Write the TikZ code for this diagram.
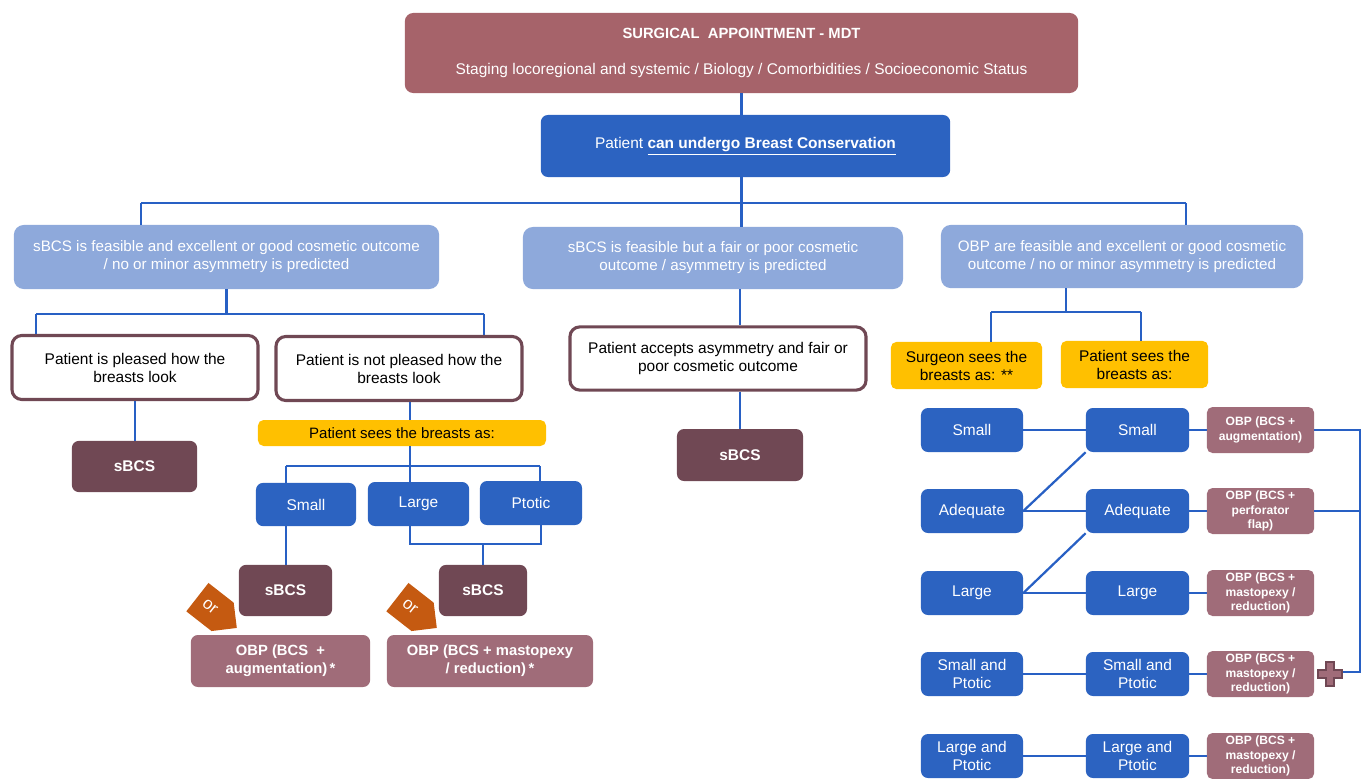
\documentclass[tikz,border=0pt]{standalone}
\usepackage{fontspec}
\setmainfont{Liberation Sans}
\usetikzlibrary{shapes.symbols}
\definecolor{mdtred}{RGB}{166,99,106}
\definecolor{darkblue}{RGB}{44,99,193}
\definecolor{lineblue}{RGB}{40,96,196}
\definecolor{lightblue}{RGB}{142,169,219}
\definecolor{plum}{RGB}{112,72,84}
\definecolor{amber}{RGB}{255,192,0}
\definecolor{mauve}{RGB}{160,108,121}
\definecolor{orbrown}{RGB}{197,90,17}
\begin{document}
\begin{tikzpicture}[x=0.025cm, y=-0.025cm,
  wire/.style={draw=lineblue, line width=1.6pt},
  mdtbox/.style={fill=mdtred, rounded corners=6pt, text=white, align=center,
    minimum width=16.83cm, minimum height=2cm, font=\fontsize{11}{12}\selectfont},
  darkbox/.style={fill=darkblue, rounded corners=5pt, text=white, align=center,
    inner sep=1pt, font=\fontsize{11}{12.8}\selectfont},
  lightbox/.style={fill=lightblue, rounded corners=7pt, text=white, align=center,
    inner sep=1pt, minimum height=1.6cm, font=\fontsize{10.8}{12.8}\selectfont},
  whitebox/.style={draw=plum, line width=2.2pt, fill=white, rounded corners=7pt,
    align=center, minimum height=1.6cm, font=\fontsize{11}{12.8}\selectfont},
  sbcs/.style={fill=plum, rounded corners=5pt, text=white,
    font=\bfseries\fontsize{11}{13}\selectfont, minimum height=1.28cm},
  yelbox/.style={fill=amber, rounded corners=4pt, align=center, inner sep=1pt,
    font=\fontsize{11}{12.8}\selectfont},
  obpbox/.style={fill=mauve, rounded corners=5pt, text=white, align=center,
    minimum height=1.3cm, font=\bfseries\fontsize{10.5}{12.8}\selectfont},
  smallobp/.style={fill=mauve, rounded corners=4pt, text=white, align=center,
    inner sep=1pt, minimum width=2.68cm, minimum height=1.15cm,
    font=\bfseries\fontsize{8.6}{10.5}\selectfont},
  orbadge/.style={shape=signal, signal to=east, fill=orbrown, text=white,
    minimum width=1.25cm, minimum height=0.9cm, inner sep=0pt,
    font=\fontsize{12}{13}\selectfont}
]
  \useasboundingbox (0,0) rectangle (1364,778);
  % top of the tree
  \node[mdtbox] (mdt) at (741.5,53)
    {\textbf{\fontsize{10.5}{12}\selectfont SURGICAL\ \ APPOINTMENT - MDT}\\[13pt]
     Staging locoregional and systemic / Biology / Comorbidities / Socioeconomic Status};
  \node[darkbox, minimum width=10.23cm, minimum height=1.55cm] (cons) at (745.5,146)
    {Patient \underline{\textbf{can undergo Breast Conservation}}};
  \node[lightbox, minimum width=10.63cm] (sfeas) at (226.5,257)
    {sBCS is feasible and excellent or good cosmetic outcome\\/ no or minor asymmetry is predicted};
  \node[lightbox, minimum width=9.5cm, minimum height=1.55cm] (sfair) at (713,258)
    {sBCS is feasible but a fair or poor cosmetic\\outcome / asymmetry is predicted};
  \node[lightbox, minimum width=9.05cm, minimum height=1.58cm] (ofeas) at (1122,256.5)
    {OBP are feasible and excellent or good cosmetic\\outcome / no or minor asymmetry is predicted};
  \coordinate (b1) at (141,203);
  \coordinate (b2) at (1186,203);
  \draw[wire] (mdt.south) -- (mdt.south |- cons.north);
  \draw[wire] (b1) -- (b2);
  \draw[wire] (b1) -- (b1 |- sfeas.north);
  \draw[wire] (b2) -- (b2 |- ofeas.north);
  \draw[wire] (mdt.south |- cons.south) -- (mdt.south |- sfair.north);

  % left branch
  \node[whitebox, minimum width=6.15cm] (pleased) at (135,367.5)
    {Patient is pleased how the\\breasts look};
  \node[whitebox, minimum width=6.15cm] (notpl) at (399,368.5)
    {Patient is not pleased how the\\breasts look};
  \node[sbcs, minimum width=3.13cm] (sb1) at (134.5,466.5) {sBCS};
  \node[yelbox, minimum width=7.2cm, minimum height=0.65cm,
    font=\fontsize{10.7}{12}\selectfont] (pseeL) at (402,433) {Patient sees the breasts as:};
  \node[darkbox, minimum width=2.5cm, minimum height=1.08cm] (small) at (306,504.5) {Small};
  \node[darkbox, minimum width=2.53cm, minimum height=1.1cm] (large) at (418.5,504) {Large};
  \node[darkbox, minimum width=2.55cm, minimum height=1.1cm] (ptotic) at (531,503) {Ptotic};
  \node[sbcs, minimum width=2.33cm] (sb2) at (285.5,590.5) {sBCS};
  \node[sbcs, minimum width=2.2cm] (sb3) at (483,590.5) {sBCS};
  \node[obpbox, minimum width=4.48cm] (obpA) at (280.5,661)
    {OBP (BCS\ \ +\\augmentation)\,*};
  \node[obpbox, minimum width=5.15cm] (obpM) at (490,661)
    {OBP (BCS + mastopexy\\/ reduction)\,*};
  \node[orbadge, rotate=-38] (or1) at (210,607) {or};
  \node[orbadge, rotate=-38] (or2) at (410,607) {or};
  \coordinate (b3) at (36,314);
  \coordinate (b4) at (484,314);
  \coordinate (b5) at (286,466);
  \coordinate (b6) at (540,466);
  \coordinate (b7) at (410,544);
  \coordinate (b8) at (541,544);
  \draw[wire] (sfeas.south) -- (sfeas.south |- b3);
  \draw[wire] (b3) -- (b4);
  \draw[wire] (b3) -- (b3 |- pleased.north);
  \draw[wire] (b4) -- (b4 |- notpl.north);
  \draw[wire] (pleased.south) -- (pleased.south |- sb1.north);
  \draw[wire] (b7 |- notpl.south) -- (b7 |- pseeL.north);
  \draw[wire] (b7 |- pseeL.south) -- (b7 |- large.north);
  \draw[wire] (b5) -- (b6);
  \draw[wire] (b5) -- (b5 |- small.north);
  \draw[wire] (b6) -- (b6 |- ptotic.north);
  \draw[wire] (b5 |- small.south) -- (b5 |- sb2.north);
  \draw[wire] (b7 |- large.south) -- (b7) -- (b8) -- (b8 |- ptotic.south);
  \draw[wire] (sb3.north |- b7) -- (sb3.north);

  % middle branch
  \node[whitebox, minimum width=7.4cm, minimum height=1.58cm] (accepts) at (718,358.5)
    {Patient accepts asymmetry and fair or\\poor cosmetic outcome};
  \node[sbcs, minimum width=3.15cm, minimum height=1.3cm] (sb4) at (740,455) {sBCS};
  \draw[wire] (sb4.north |- sfair.south) -- (sb4.north |- accepts.north);
  \draw[wire] (sb4.north |- accepts.south) -- (sb4.north);

  % right branch
  \node[yelbox, minimum width=3.78cm, minimum height=1.18cm] (sseeR) at (966.5,365.5)
    {Surgeon sees the\\breasts as: **};
  \node[yelbox, minimum width=3.68cm, minimum height=1.18cm] (pseeR) at (1134.5,364.5)
    {Patient sees the\\breasts as:};
  \coordinate (b9) at (991,312);
  \coordinate (b10) at (1141,312);
  \coordinate (b11) at (1066,312);
  \draw[wire] (b11 |- ofeas.south) -- (b11);
  \draw[wire] (b9) -- (b10);
  \draw[wire] (b9) -- (b9 |- sseeR.north);
  \draw[wire] (b10) -- (b10 |- pseeR.north);
  \foreach \i/\ry/\look/\obp in {
      1/430/Small/{OBP (BCS +\\augmentation)},
      2/511/Adequate/{OBP (BCS +\\perforator\\flap)},
      3/593/Large/{OBP (BCS +\\mastopexy /\\reduction)},
      4/674/{Small and\\Ptotic}/{OBP (BCS +\\mastopexy /\\reduction)},
      5/756/{Large and\\Ptotic}/{OBP (BCS +\\mastopexy /\\reduction)}}{
    \node[darkbox, minimum width=2.55cm, minimum height=1.1cm] (sv\i) at (972,\ry) {\look};
    \node[darkbox, minimum width=2.58cm, minimum height=1.1cm] (pv\i) at (1137.5,\ry) {\look};
    \node[smallobp] (ob\i) at (1260.5,\ry) {\obp};
    \draw[wire] (sv\i) -- (pv\i);
    \draw[wire] (pv\i) -- (ob\i);
  }
  \draw[wire] (sv2.east) -- (pv1.south west);
  \draw[wire] (sv3.east) -- (pv2.south west);
  \coordinate (rb) at (1360,0);
  \coordinate (plus) at (1342,672);
  \draw[wire] (ob1.east) -- (ob1.east -| rb) -- (rb |- plus) -- (plus);
  \draw[wire] (ob2.east) -- (ob2.east -| rb);
  \filldraw[fill=mauve, draw=plum, line width=0.8pt]
    (1326,662) -- (1334,662) -- (1334,670) -- (1342,670) -- (1342,678) -- (1334,678)
    -- (1334,686) -- (1326,686) -- (1326,678) -- (1318,678) -- (1318,670) -- (1326,670)
    -- cycle;
\end{tikzpicture}
\end{document}
